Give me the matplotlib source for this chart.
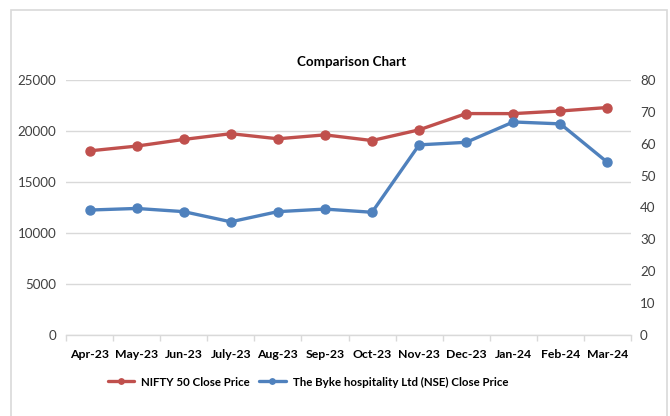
import matplotlib
matplotlib.use("Agg")
import matplotlib.pyplot as plt
from matplotlib.patches import Rectangle
from matplotlib.ticker import FixedLocator

months = ["Apr-23", "May-23", "Jun-23", "July-23", "Aug-23", "Sep-23",
          "Oct-23", "Nov-23", "Dec-23", "Jan-24", "Feb-24", "Mar-24"]
nifty = [18065, 18534, 19189, 19754, 19254, 19638, 19080, 20133, 21731, 21726, 21983, 22327]
byke = [39.2, 39.7, 38.7, 35.5, 38.7, 39.5, 38.5, 59.7, 60.5, 66.9, 66.3, 54.2]
left_ticks = [0, 5000, 10000, 15000, 20000, 25000]
right_ticks = [0, 10, 20, 30, 40, 50, 60, 70, 80]

RED = "#C0504D"
BLUE = "#4F81BD"
GRID = "#D9D9D9"
TXT = "#404040"

plt.rcParams['font.family'] = ['Lato', 'DejaVu Sans']

W, H = 670, 416
fig = plt.figure(figsize=(W/100, H/100), dpi=100)

# chart border
fig.patches.append(Rectangle((11/W, -0.05), (667-11)/W, (H-9.5)/H + 0.05,
                             transform=fig.transFigure, fill=False,
                             edgecolor="#D9D9D9", linewidth=1.2))

ax = fig.add_axes([66/W, 1-334.7/H, (631-66)/W, (334.7-80.3)/H])
ax2 = ax.twinx()

x = list(range(len(months)))
ax.plot(x, nifty, color=RED, lw=2.4, marker='o', ms=6.5, zorder=3,
        label="NIFTY 50 Close Price", solid_capstyle='round')
ax2.plot(x, byke, color=BLUE, lw=2.4, marker='o', ms=6.5, zorder=3,
         label="The Byke hospitality Ltd (NSE) Close Price", solid_capstyle='round')

ax.set_xlim(-0.5, len(months) - 0.5)
ax.set_ylim(0, 25000)
ax2.set_ylim(0, 80)
ax.set_yticks(left_ticks)
ax2.set_yticks(right_ticks)
ax.yaxis.grid(True, color=GRID, lw=1)
ax.set_axisbelow(True)

for a in (ax, ax2):
    for s in a.spines.values():
        s.set_visible(False)
ax.spines['bottom'].set_visible(True)
ax.spines['bottom'].set_color(GRID)
ax.spines['bottom'].set_linewidth(1)

ax.set_xticks(x)
ax.set_xticklabels(months, fontsize=8.8, fontweight='bold', color="black")
ax.xaxis.set_minor_locator(FixedLocator([i - 0.5 for i in range(len(months) + 1)]))
ax.tick_params(axis='x', which='major', length=0, pad=10)
ax.tick_params(axis='x', which='minor', length=4, color=GRID, width=1)
ax.tick_params(axis='y', length=0, pad=7, labelsize=9.6, labelcolor=TXT)
ax2.tick_params(axis='y', length=0, pad=6.5, labelsize=9.6, labelcolor=TXT)

fig.text(352/W, 1-62/H, "Comparison Chart", ha='center', va='center',
         fontsize=9.6, fontweight='bold', color="black")

h1, l1 = ax.get_legend_handles_labels()
h2, l2 = ax2.get_legend_handles_labels()
leg = fig.legend(h1 + h2, l1 + l2, loc='center', bbox_to_anchor=(308/W, 1-382/H),
                 ncol=2, frameon=False, prop={'size': 8.3, 'weight': 'bold'},
                 handlelength=2.3, columnspacing=0.8, handletextpad=0.6, markerscale=0.6)

fig.savefig("out.png", dpi=100)
